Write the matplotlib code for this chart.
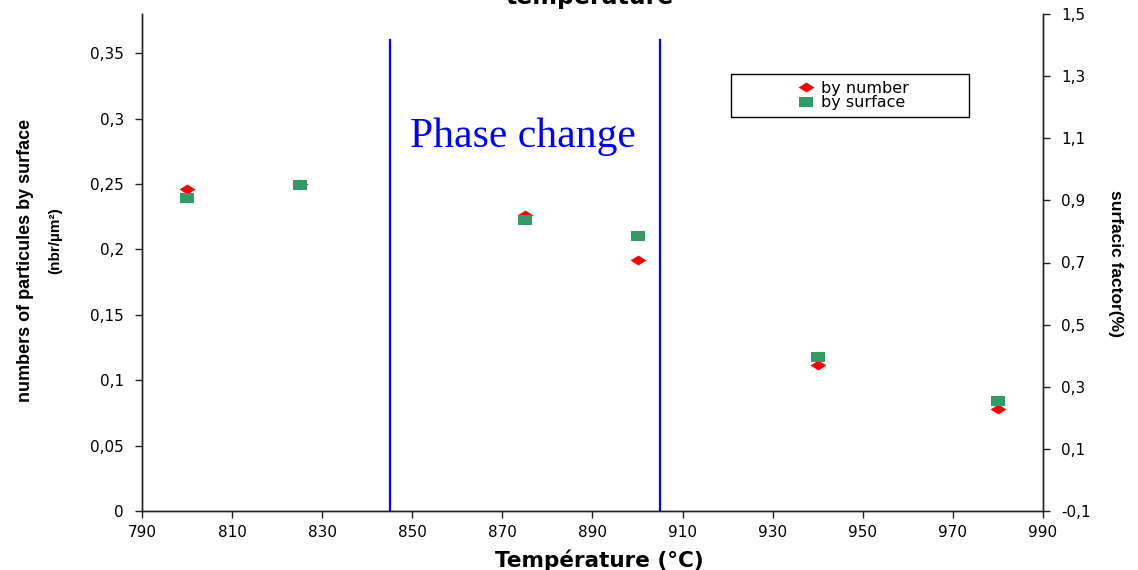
import matplotlib
matplotlib.use('Agg')
import matplotlib.pyplot as plt
from matplotlib.patches import Rectangle
from matplotlib.ticker import FuncFormatter
import numpy as np

# data
temperature = [800, 825, 875, 900, 940, 980]
by_number = [0.246, 0.250, 0.226, 0.192, 0.112, 0.078]      # left axis (nbr/um2)
by_surface = [0.907, 0.950, 0.837, 0.784, 0.397, 0.255]     # right axis (%)
phase_limits = [845, 905]

plt.rcParams['font.family'] = ['DejaVu Sans']

fig = plt.figure(figsize=(11.38, 5.70), dpi=100)
ax = fig.add_axes([142 / 1138, 59 / 570, 901 / 1138, 497 / 570])
ax2 = ax.twinx()

# squashed markers like the excel export
diamond = [(-1, 0), (0, 0.62), (1, 0), (0, -0.62), (-1, 0)]
square = [(-1, -0.75), (1, -0.75), (1, 0.75), (-1, 0.75), (-1, -0.75)]

l1, = ax.plot(temperature, by_number, linestyle='none', marker=diamond,
              markersize=11.5, color='#FF0000', markeredgewidth=0, label='by number')
l2, = ax2.plot(temperature, by_surface, linestyle='none', marker=square,
               markersize=9.5, color='#339966', markeredgewidth=0, label='by surface')

for xv in phase_limits:
    ax.plot([xv, xv], [0, 0.36], color='#0000FF', lw=1.6)
ax.text(874.5, 0.286, 'Phase change', color='#0000FF', fontsize=30,
        family='Liberation Serif', ha='center', va='center')

ax.set_xlim(790, 990)
ax.set_ylim(0, 0.38)
ax2.set_ylim(-0.1, 1.5)
ax.set_xticks(np.arange(790, 991, 20))
ax.set_yticks(np.arange(0, 0.351, 0.05))
ax2.set_yticks(np.arange(-0.1, 1.51, 0.2))

comma = FuncFormatter(lambda v, p: f"{round(v, 2):g}".replace('.', ','))
ax.yaxis.set_major_formatter(comma)
ax2.yaxis.set_major_formatter(comma)

for a in (ax, ax2):
    a.spines['top'].set_visible(False)
    for s in a.spines.values():
        s.set_linewidth(1)
        s.set_color('#222222')
    a.tick_params(direction='out', length=5, width=1, colors='#222222',
                  labelsize=11, labelcolor='black')
ax.tick_params(axis='y', pad=8)
ax2.tick_params(axis='y', pad=8)
ax.tick_params(axis='x', pad=5)

ax.set_xlabel('Température (°C)', fontsize=15.5, fontweight='bold')
ax.xaxis.set_label_coords(0.508, -0.099)
ax.xaxis.label.set_va('center')

fig.text(26 / 1138, 1 - 260 / 570, 'numbers of particules by surface',
         rotation=90, ha='center', va='center', fontsize=13,
         fontweight='bold', family='Liberation Sans')
fig.text(55 / 1138, 1 - 241 / 570, '(nbr/µm²)', rotation=90, ha='center',
         va='center', fontsize=11, fontweight='bold', family='Liberation Sans')
fig.text(1116 / 1138, 1 - 264 / 570, 'surfacic factor(%)', rotation=270,
         ha='center', va='center', fontsize=12.5, fontweight='bold',
         family='Liberation Sans')

# title is cut off at the top of the image, as in the reference
fig.text(590 / 1138, 1 - 4 / 570, 'temperature', ha='center', va='baseline',
         fontsize=17, fontweight='bold')

# legend box
x0, x1 = (731 - 142) / 901, (969 - 142) / 901
y0, y1 = (511 - 117) / 497, (511 - 74) / 497
ax2.add_patch(Rectangle((x0, y0), x1 - x0, y1 - y0, transform=ax2.transAxes,
                        fill=True, facecolor='white', edgecolor='black', lw=1,
                        zorder=5))
leg = ax2.legend([l1, l2], ['by number', 'by surface'], loc='center',
                 bbox_to_anchor=((x0 + x1) / 2 + 0.004, (y0 + y1) / 2), frameon=False,
                 fontsize=11.5, labelspacing=0.0, handletextpad=0.4,
                 handlelength=1.0, borderpad=0)
leg.set_zorder(6)

fig.savefig('out.png', dpi=100)
